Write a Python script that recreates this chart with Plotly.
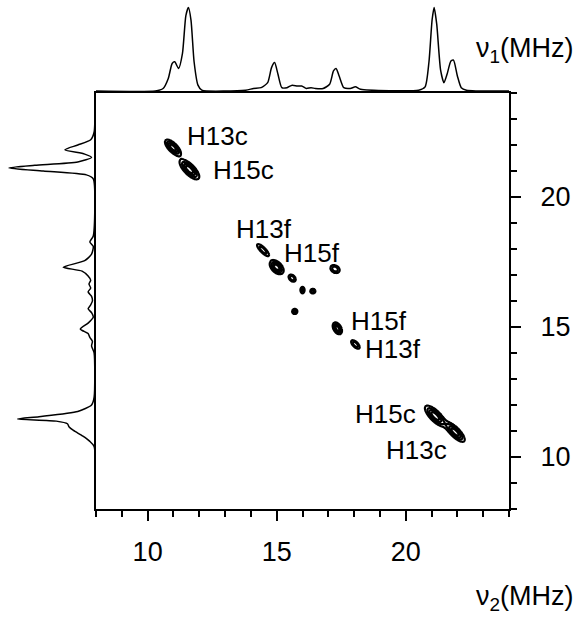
import numpy as np
import plotly.graph_objects as go

# ---------------- data ----------------
# top projection (nu2 axis, MHz) and relative intensity
top_nu = [8.0, 10.3, 10.6, 10.8, 10.95, 11.05, 11.2, 11.35, 11.48, 11.58, 11.68, 11.8, 11.95, 12.1,
          13.8, 14.1, 14.4, 14.65, 14.8, 14.92, 15.05, 15.2, 15.4, 15.6, 15.8, 15.97, 16.15, 16.33,
          16.5, 16.8, 17.05, 17.2, 17.3, 17.42, 17.6, 17.85, 18.05, 18.25, 20.5, 20.75, 20.9, 21.02,
          21.1, 21.2, 21.35, 21.48, 21.6, 21.75, 21.85, 22.0, 22.15, 22.35, 24.0]
top_int = [0.0, 0.0, 0.03, 0.15, 0.33, 0.35, 0.27, 0.45, 0.9, 1.0, 0.85, 0.35, 0.07, 0.01,
           0.01, 0.03, 0.04, 0.1, 0.28, 0.34, 0.2, 0.04, 0.04, 0.07, 0.06, 0.06, 0.03, 0.04,
           0.03, 0.03, 0.08, 0.24, 0.27, 0.18, 0.04, 0.03, 0.05, 0.02, 0.01, 0.05, 0.35, 0.85,
           1.0, 0.8, 0.25, 0.1, 0.2, 0.36, 0.37, 0.18, 0.04, 0.01, 0.0]

# left projection (nu1 axis, MHz) and relative intensity
left_nu = [24.0, 22.5, 22.2, 22.0, 21.82, 21.65, 21.52, 21.35, 21.22, 21.12, 21.0, 20.85, 20.7,
           18.5, 18.27, 18.1, 17.8, 17.55, 17.3, 17.15, 16.96, 16.8, 16.65, 16.5, 16.35, 16.18,
           16.0, 15.85, 15.7, 15.55, 15.38, 15.15, 14.92, 14.75, 14.6, 14.45, 14.27, 14.0, 12.3,
           12.0, 11.75, 11.55, 11.46, 11.38, 11.28, 11.15, 11.02, 10.8, 10.6, 10.4, 8.1]
left_int = [0.0, 0.01, 0.05, 0.2, 0.35, 0.12, 0.04, 0.2, 0.7, 1.0, 0.6, 0.1, 0.02,
            0.02, 0.06, 0.02, 0.04, 0.12, 0.37, 0.15, 0.08, 0.05, 0.07, 0.05, 0.08, 0.04,
            0.03, 0.05, 0.08, 0.04, 0.02, 0.08, 0.17, 0.08, 0.06, 0.03, 0.04, 0.01, 0.01,
            0.04, 0.2, 0.65, 0.9, 0.45, 0.32, 0.3, 0.25, 0.14, 0.06, 0.01, 0.0]

# 2D cross peaks: centre (nu2, nu1), amplitude, outer-contour length/width (MHz), tilt (deg)
pk_nu2 = [10.98, 11.62, 14.47, 15.00, 15.60, 16.00, 16.40, 15.70, 17.26, 17.35, 18.05, 21.14, 21.91]
pk_nu1 = [21.90, 21.06, 17.96, 17.30, 16.88, 16.42, 16.38, 15.60, 17.23, 14.95, 14.33, 11.58, 10.96]
pk_amp = [1.0, 1.0, 0.6, 1.0, 0.6, 0.5, 0.5, 1.0, 0.6, 1.0, 0.6, 1.0, 1.0]
pk_len = [0.80, 1.00, 0.62, 0.65, 0.32, 0.25, 0.20, 0.20, 0.38, 0.50, 0.42, 1.05, 1.00]
pk_wid = [0.34, 0.40, 0.20, 0.40, 0.22, 0.16, 0.18, 0.20, 0.28, 0.30, 0.20, 0.40, 0.36]
pk_ang = [-45, -45, -45, -45, -45, 90, 0, 0, -30, -60, -45, -45, -45]

# peak labels
lab_text = ["H13c", "H15c", "H13f", "H15f", "H15f", "H13f", "H15c", "H13c"]
lab_nu2 = [12.69, 13.70, 14.49, 16.35, 18.95, 19.49, 19.20, 20.40]
lab_nu1 = [22.35, 21.04, 18.77, 17.85, 15.23, 14.15, 11.65, 10.27]

axis_range = [8, 24]
tick_vals = [10, 15, 20]

# ---------------- 2D field from the peak table ----------------
LEVEL0 = 0.2
g = np.arange(8.0, 24.0001, 0.025)
GX, GY = np.meshgrid(g, g)
Z = np.zeros_like(GX)
for x0, y0, a, L, W, ang in zip(pk_nu2, pk_nu1, pk_amp, pk_len, pk_wid, pk_ang):
    k = np.sqrt(2 * np.log(a / LEVEL0))
    sa, sb = (L / 2) / k, (W / 2) / k
    t = np.deg2rad(ang)
    dx, dy = GX - x0, GY - y0
    u = dx * np.cos(t) + dy * np.sin(t)
    v = -dx * np.sin(t) + dy * np.cos(t)
    Z += a * np.exp(-0.5 * ((u / sa) ** 2 + (v / sb) ** 2))
Z = np.round(Z, 3)

FONT = "Liberation Sans, Arial, sans-serif"
W_PX, H_PX = 579, 623

fig = go.Figure()
fig.add_trace(go.Contour(
    x=g, y=g, z=Z, xaxis="x", yaxis="y",
    contours=dict(start=0.2, end=0.85, size=0.2, coloring="none"),
    line=dict(color="black", width=2.2, smoothing=1),
    showscale=False, hoverinfo="skip"))
fig.add_trace(go.Scatter(
    x=top_nu, y=top_int, xaxis="x2", yaxis="y2", mode="lines",
    line=dict(color="black", width=1.5, shape="spline", smoothing=0.6),
    hoverinfo="skip", showlegend=False))
fig.add_trace(go.Scatter(
    x=left_int, y=left_nu, xaxis="x3", yaxis="y3", mode="lines",
    line=dict(color="black", width=1.5, shape="spline", smoothing=0.6),
    hoverinfo="skip", showlegend=False))

main_x = [96 / W_PX, 509 / W_PX]
main_y = [1 - 509 / H_PX, 1 - 93 / H_PX]
top_y = [1 - 91 / H_PX, 1 - 5 / H_PX]
left_x = [5 / W_PX, 95 / W_PX]

hidden = dict(visible=False, showgrid=False, zeroline=False)

fig.update_layout(
    width=W_PX, height=H_PX, autosize=False,
    margin=dict(l=0, r=0, t=0, b=0),
    paper_bgcolor="white", plot_bgcolor="rgba(0,0,0,0)",
    showlegend=False,
    font=dict(family=FONT, color="black", size=27),
    xaxis=dict(domain=main_x, range=axis_range, showgrid=False, zeroline=False,
               showline=True, linecolor="black", linewidth=2, mirror=True,
               ticks="outside", ticklen=10, tickwidth=2, tickcolor="black",
               tickvals=tick_vals, ticktext=[str(v) for v in tick_vals],
               tickfont=dict(size=27, family=FONT), ticklabelstandoff=8,
               minor=dict(dtick=1, tick0=0, ticks="outside", ticklen=6, tickwidth=2,
                          tickcolor="black", showgrid=False),
               anchor="y"),
    yaxis=dict(domain=main_y, range=axis_range, showgrid=False, zeroline=False,
               showline=True, linecolor="black", linewidth=2, mirror=True,
               side="right", ticks="outside", ticklen=10, tickwidth=2, tickcolor="black",
               tickvals=tick_vals, ticktext=[str(v) for v in tick_vals],
               tickfont=dict(size=27, family=FONT), ticklabelstandoff=14,
               minor=dict(dtick=1, tick0=0, ticks="outside", ticklen=6, tickwidth=2,
                          tickcolor="black", showgrid=False),
               anchor="x"),
    xaxis2=dict(domain=main_x, range=axis_range, anchor="y2", **hidden),
    yaxis2=dict(domain=top_y, range=[0, 1.03], anchor="x2", **hidden),
    xaxis3=dict(domain=left_x, range=[1.045, 0], anchor="y3", **hidden),
    yaxis3=dict(domain=main_y, range=axis_range, anchor="x3", **hidden),
)

for t, xv, yv in zip(lab_text, lab_nu2, lab_nu1):
    fig.add_annotation(x=xv, y=yv, xref="x", yref="y", text=t, showarrow=False,
                       font=dict(size=26, family=FONT, color="black"),
                       xanchor="center", yanchor="middle")

fig.add_annotation(x=576 / W_PX, y=1 - 50 / H_PX, xref="paper", yref="paper",
                   text="ν<sub>1</sub>(MHz)", showarrow=False, xanchor="right", yanchor="middle",
                   font=dict(size=27, family=FONT, color="black"))
fig.add_annotation(x=576 / W_PX, y=1 - 598 / H_PX, xref="paper", yref="paper",
                   text="ν<sub>2</sub>(MHz)", showarrow=False, xanchor="right", yanchor="middle",
                   font=dict(size=27, family=FONT, color="black"))

fig.write_html("out.html")
